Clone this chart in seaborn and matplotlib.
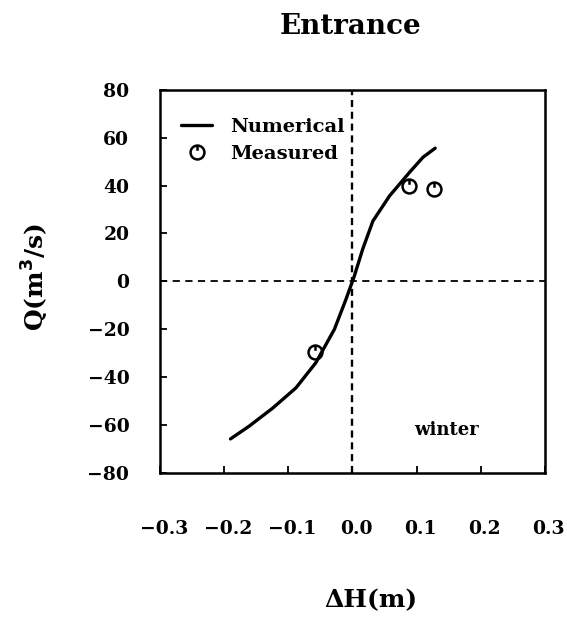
import numpy as np
import pandas as pd
import matplotlib
matplotlib.use("Agg")
import matplotlib.pyplot as plt
from matplotlib.path import Path
from matplotlib.lines import Line2D
import matplotlib.transforms as mtransforms
import seaborn as sns

# ---- data ----
num_dh = [-0.190, -0.161, -0.124, -0.088, -0.057, -0.028, -0.010, 0.003, 0.016, 0.032, 0.058, 0.089, 0.110, 0.129]
num_q = [-65.8, -60.5, -52.9, -44.5, -34.0, -20.0, -7.5, 2.2, 13.4, 25.2, 35.7, 45.5, 51.8, 55.6]
meas_dh = [-0.058, 0.0875, 0.127]
meas_q = [-29.4, 39.9, 38.5]
xticks = [-0.3, -0.2, -0.1, 0.0, 0.1, 0.2, 0.3]
yticks = [-80, -60, -40, -20, 0, 20, 40, 60, 80]

sns.set_style("ticks")
plt.rcParams['font.family'] = ['DejaVu Serif']
plt.rcParams['font.weight'] = 'bold'
plt.rcParams['text.color'] = 'black'
plt.rcParams['axes.labelcolor'] = 'black'
plt.rcParams['xtick.color'] = 'black'
plt.rcParams['ytick.color'] = 'black'
plt.rcParams['axes.edgecolor'] = 'black'

fig = plt.figure(figsize=(5.67, 6.19), dpi=100)
ax = fig.add_axes([0.282, 0.236, 0.679, 0.619])

num = pd.DataFrame({"dh": num_dh, "q": num_q})
meas = pd.DataFrame({"dh": meas_dh, "q": meas_q})

# custom marker: open circle with small tick at top
circ = Path.unit_circle()
tick = Path([[0, 1.0], [0, 0.25]], [Path.MOVETO, Path.LINETO])
mk = Path.make_compound_path(circ, tick)

ax.axhline(0, color="black", lw=1.3, ls=(0, (4, 3)), zorder=1)
ax.axvline(0, color="black", lw=1.7, ls=(0, (3, 2)), zorder=1)

sns.lineplot(data=num, x="dh", y="q", ax=ax, color="black", lw=2.4, sort=False, zorder=3)
ax.plot(meas["dh"], meas["q"], ls="none", marker=mk, markersize=10,
        markerfacecolor="none", markeredgecolor="black", markeredgewidth=1.8, zorder=4)

ax.set_xlim(-0.3, 0.3)
ax.set_ylim(-80, 80)
ax.set_xticks(xticks)
ax.set_xticklabels([f"{v:.1f}".replace("-", "\u2212") for v in xticks])
ax.set_yticks(yticks)
ax.set_yticklabels([str(v).replace("-", "\u2212") for v in yticks])
ax.tick_params(axis="x", direction="in", length=5, width=1.3, pad=34, labelsize=13.5)
ax.tick_params(axis="y", direction="in", length=5, width=1.3, pad=22, labelsize=13.5)
off = mtransforms.ScaledTranslation(4 / 100, 0, fig.dpi_scale_trans)
for lab in ax.get_xticklabels():
    lab.set_transform(lab.get_transform() + off)
for s in ax.spines.values():
    s.set_linewidth(1.8)
    s.set_color("black")
    s.set_visible(True)

ax.set_xlabel("\u0394H(m)", fontsize=18, fontweight="bold")
ax.set_ylabel("Q(m$^\\mathbf{3}$/s)", fontsize=18, fontweight="bold")
ax.xaxis.set_label_coords(0.548, -0.30)
ax.yaxis.set_label_coords(-0.282, 0.51)
ax.text(0.496, 1.165, "Entrance", transform=ax.transAxes, ha="center", va="center",
        fontsize=20, fontweight="bold")
ax.text(0.147, -61.9, "winter", ha="center", va="center", fontsize=13, fontweight="bold")

handles = [Line2D([], [], color="black", lw=2.4),
           Line2D([], [], ls="none", marker=mk, markersize=10, markerfacecolor="none",
                  markeredgecolor="black", markeredgewidth=1.8)]
leg = ax.legend(handles, ["Numerical", "Measured"], loc="upper left", frameon=False,
                fontsize=14, handlelength=1.6, handletextpad=0.9, borderaxespad=0.3,
                bbox_to_anchor=(0.02, 0.963), labelspacing=0.5)

fig.savefig("out.png", dpi=100)
